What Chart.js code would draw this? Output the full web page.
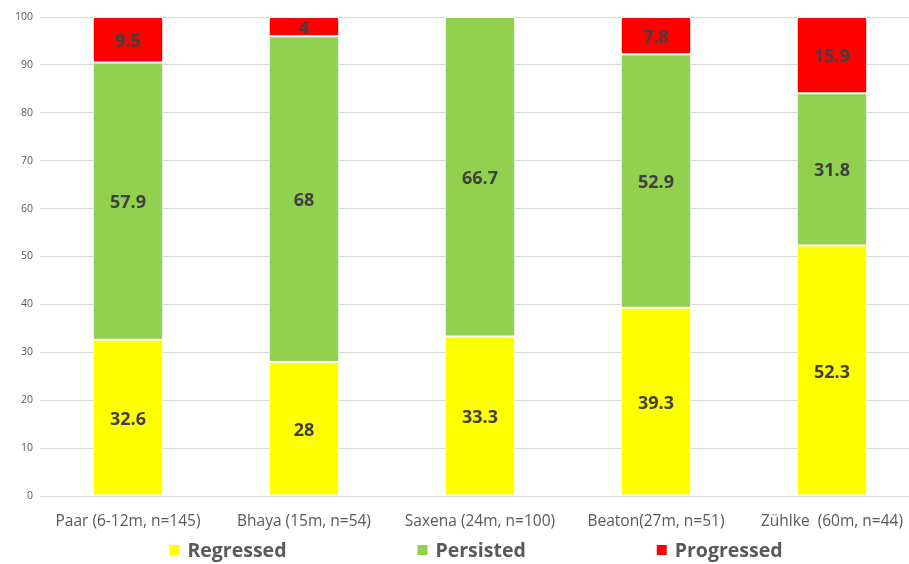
<!DOCTYPE html>
<html>
<head>
<meta charset="utf-8">
<script src="https://cdn.jsdelivr.net/npm/chart.js@4/dist/chart.umd.min.js"></script>
<style>
  html, body { margin: 0; padding: 0; background: #fff; overflow: hidden; width: 909px; height: 564px; }
  #wrap { position: relative; width: 920px; height: 564px; }
</style>
</head>
<body>
<div id="wrap"><canvas id="c" width="920" height="564"></canvas></div>
<script>
const categories = ["Paar (6-12m, n=145)", "Bhaya (15m, n=54)", "Saxena (24m, n=100)", "Beaton(27m, n=51)", "Zühlke  (60m, n=44)"];
const regressed = [32.6, 28, 33.3, 39.3, 52.3];
const persisted = [57.9, 68, 66.7, 52.9, 31.8];
const progressed = [9.5, 4, 0, 7.8, 15.9];
const yTicks = [0, 10, 20, 30, 40, 50, 60, 70, 80, 90, 100];

const FONT = "'Open Sans', 'Liberation Sans', sans-serif";

const valueLabels = {
  id: 'valueLabels',
  afterDatasetsDraw(chart) {
    const ctx = chart.ctx;
    ctx.save();
    ctx.font = "bold 18px " + FONT;
    ctx.fillStyle = '#404040';
    ctx.textAlign = 'center';
    ctx.textBaseline = 'middle';
    chart.data.datasets.forEach((ds, di) => {
      const meta = chart.getDatasetMeta(di);
      meta.data.forEach((el, i) => {
        const v = ds.data[i];
        if (!v) return;
        const p = el.getProps(['x', 'y', 'base'], true);
        ctx.fillText(String(v), p.x, (p.y + p.base) / 2 + 2);
      });
    });
    ctx.restore();
  }
};

const customLegend = {
  id: 'customLegend',
  afterDraw(chart) {
    const ctx = chart.ctx;
    ctx.save();
    ctx.font = "bold 19.5px " + FONT;
    ctx.textBaseline = 'middle';
    ctx.textAlign = 'left';
    const box = 10, gapBox = 8, gapItem = 131;
    const items = chart.data.datasets.map(ds => ({ text: ds.label, color: ds.backgroundColor, w: ctx.measureText(ds.label).width }));
    let total = 0;
    items.forEach((it, i) => { total += box + gapBox + it.w + (i < items.length - 1 ? gapItem : 0); });
    let x = 476 - total / 2;
    const y = 550;
    items.forEach(it => {
      ctx.fillStyle = it.color;
      ctx.fillRect(x, y - box / 2, box, box);
      x += box + gapBox;
      ctx.fillStyle = '#595959';
      ctx.fillText(it.text, x, y + 1);
      x += it.w + gapItem;
    });
    ctx.restore();
  }
};

new Chart(document.getElementById('c'), {
  type: 'bar',
  data: {
    labels: categories,
    datasets: [
      { label: 'Regressed', data: regressed, backgroundColor: '#FFFF00' },
      { label: 'Persisted', data: persisted, backgroundColor: '#92D050' },
      { label: 'Progressed', data: progressed, backgroundColor: '#FF0000' }
    ].map(d => Object.assign(d, {
      borderColor: 'rgba(255,255,255,0.85)',
      borderWidth: 1,
      borderSkipped: false,
      barPercentage: 0.4,
      categoryPercentage: 1.0
    }))
  },
  options: {
    responsive: false,
    animation: false,
    devicePixelRatio: 1,
    layout: { padding: { top: 17, right: 0, bottom: 0, left: 0 } },
    plugins: {
      legend: { display: false },
      tooltip: { enabled: false }
    },
    scales: {
      x: {
        stacked: true,
        grid: { display: false, drawTicks: false },
        border: { display: false },
        ticks: { color: '#595959', font: { family: FONT, size: 15.5 }, padding: 16, maxRotation: 0, autoSkip: false },
        afterFit(scale) { scale.height = 68; }
      },
      y: {
        stacked: true,
        min: 0, max: 100,
        afterBuildTicks(scale) { scale.ticks = yTicks.map(v => ({ value: v })); },
        grid: { color: '#d9d9d9', lineWidth: 1, drawTicks: false },
        border: { display: false },
        ticks: { color: '#595959', font: { family: FONT, size: 10.5 }, padding: 7 },
        afterFit(scale) { scale.width = 40; }
      }
    }
  },
  plugins: [valueLabels, customLegend]
});
</script>
</body>
</html>
